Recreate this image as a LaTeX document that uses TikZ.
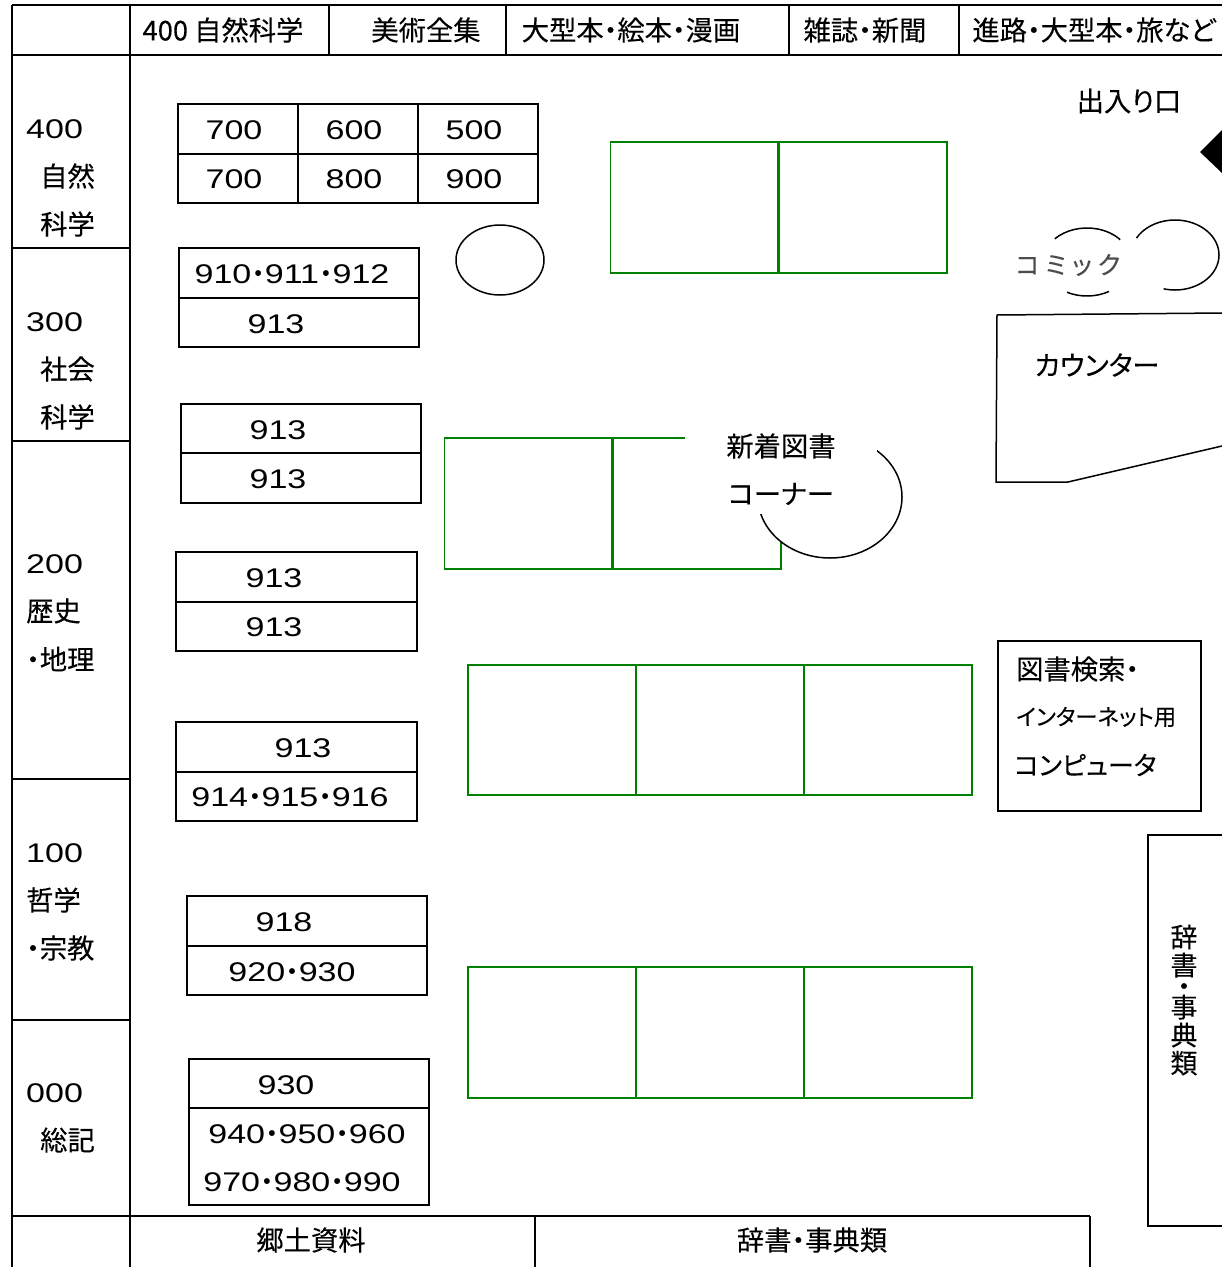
\documentclass[tikz,border=0pt]{standalone}
\usepackage{fontspec}
\usetikzlibrary{shapes.geometric}
\newfontfamily\jpfont[RawFeature=+palt, FakeBold=0.15]{Noto Sans CJK JP}
\newfontfamily\numfont[FakeStretch=1.26]{Liberation Sans}
\newcommand{\mdot}{{\jpfont ・}}
\tikzset{
    jplabel/.style={font=\fontsize{27.3}{30}\selectfont\jpfont, inner sep=0pt},
    numlabel/.style={font=\fontsize{27}{30}\selectfont\numfont, inner sep=0pt},
    shelf/.style={draw, line width=1.6pt, minimum width=#1, inner sep=0pt, outer sep=0pt},
    greenshelf/.style={draw=green!50!black, line width=1.8pt, minimum width=168, minimum height=130.5, inner sep=0pt, outer sep=0pt},
    grid/.style={line width=2pt},
    thinline/.style={line width=1.5pt}
}
\begin{document}
\begin{tikzpicture}[x=1pt, y=1pt]
    \useasboundingbox (0,0) rectangle (1222,-1267);

    % Table frame
    \draw[grid] (12,-5) -- (1222,-5);
    \draw[grid] (12,-55) -- (1222,-55);
    \draw[grid] (12,-5) -- (12,-1267);
    \draw[grid] (130,-5) -- (130,-1267);
    \foreach \x in {329, 506, 789, 959} {
        \draw[grid] (\x,-5) -- (\x,-55);
    }
    \foreach \y in {248, 441, 779, 1020} {
        \draw[grid] (12,-\y) -- (130,-\y);
    }
    \draw[grid] (12,-1216) -- (1090,-1216);
    \draw[grid] (535,-1216) -- (535,-1267);
    \draw[grid] (1090,-1216) -- (1090,-1267);

    % Header and footer
    \node[jplabel] (head1) at (223,-30) {400 自然科学};
    \node[jplabel] (head2) at (426,-30) {美術全集};
    \node[jplabel] (head3) at (631,-30) {大型本\mdot 絵本\mdot 漫画};
    \node[jplabel] (head4) at (865,-30) {雑誌\mdot 新聞};
    \node[jplabel] (head5) at (1094,-30) {進路\mdot 大型本\mdot 旅など};
    \node[jplabel] (foot1) at (311,-1240) {郷土資料};
    \node[jplabel] (foot2) at (812,-1240) {辞書\mdot 事典類};

    % Left column
    \foreach \name/\x/\y/\txt in {c400/26/129/400, c300/26/322/300, c200/26/564/200, c100/26/853/100, c000/26/1093/000} {
        \node[numlabel, anchor=west] (\name) at (\x,-\y) {\txt};
    }
    \foreach \name/\x/\y/\txt in {s400a/40/176/自然, s400b/40/224/科学, s300a/40/369/社会, s300b/40/417/科学, s200a/26/611/歴史, s100a/26/900/哲学, s000a/40/1140/総記} {
        \node[jplabel, anchor=west] (\name) at (\x,-\y) {\txt};
    }
    \node[jplabel, anchor=west] (s200b) at (26,-659) {\mdot 地理};
    \node[jplabel, anchor=west] (s100b) at (26,-948) {\mdot 宗教};

    % Shelves along the left wall
    \foreach \name/\cx/\cy/\w/\h/\tx/\ty/\txt in {
        a1/238/129/120/50/234/130/700, a2/358/129/120/50/354/130/600, a3/478/129/120/50/474/130/500,
        a4/238/178.5/120/49/234/179/700, a5/358/178.5/120/49/354/179/800, a6/478/178.5/120/49/474/179/900,
        b1/299/273/240/50/292/274/910\mdot 911\mdot 912, b2/299/322.5/240/49/276/324/913,
        d1/301/428.5/240/49/278/430/913, d2/301/478/240/50/278/479/913,
        e1/296.5/577/241/50/274/578/913, e2/296.5/626.5/241/49/274/627/913,
        f1/296.5/747/241/50/303/748/913, f2/296.5/796.5/241/49/290/797/914\mdot 915\mdot 916,
        g1/307/921/240/50/284/922/918, g2/307/970.5/240/49/292/972/920\mdot 930,
        h1/309/1083.5/240/49/286/1085/930, h2/309/1156.5/240/97/307/1134/940\mdot 950\mdot 960
    } {
        \node[shelf=\w, minimum height=\h] (\name) at (\cx,-\cy) {};
        \node[numlabel] (\name txt) at (\tx,-\ty) {\txt};
    }
    \node[numlabel] (h3txt) at (302,-1182) {970\mdot 980\mdot 990};

    % Green shelves
    \foreach \name/\cx/\cy in {
        p1/694.5/207.5, p2/863/207.5,
        q1/528.5/503.5, q2/697/503.5,
        r1/552/730, r2/720/730, r3/888/730,
        t1/552/1032.5, t2/720/1032.5, t3/888/1032.5
    } {
        \node[greenshelf] (\name) at (\cx,-\cy) {};
    }
    \draw[green!50!black, line width=3pt] (p1.north east) -- (p1.south east);
    \draw[green!50!black, line width=3pt] (q1.north east) -- (q1.south east);

    % Round table
    \node[draw, ellipse, thinline, minimum width=88, minimum height=70, inner sep=0pt] (table) at (500,-260) {};

    % New book corner
    \node[draw, ellipse, thinline, fill=white, minimum width=144, minimum height=122, inner sep=0pt] (newround) at (830,-497) {};
    \node[fill=white, minimum width=192, minimum height=89, inner sep=0pt] (newcover) at (781,-469.5) {};
    \node[jplabel] (new1) at (781,-446) {新着図書};
    \node[jplabel] (new2) at (781,-494) {コーナー};

    % Entrance
    \node[jplabel] (door) at (1129,-101) {出入り口};
    \fill (1200,-152) -- (1222,-130) -- (1222,-173) -- cycle;

    % Comic corner
    \coordinate (comicl) at (1087,-262);
    \coordinate (comicr) at (1175,-255);
    \draw[thinline] ([shift={(137:44 and 34)}]comicl) arc[start angle=137, end angle=41, x radius=44, y radius=34];
    \draw[thinline] ([shift={(243:44 and 34)}]comicl) arc[start angle=243, end angle=300, x radius=44, y radius=34];
    \draw[thinline] ([shift={(151:44 and 35)}]comicr) arc[start angle=151, end angle=-105, x radius=44, y radius=35];
    \node[jplabel, font=\fontsize{25}{30}\selectfont\jpfont, black!70] (comic) at (1068,-265) {コ\kern6pt ミ\kern6pt ッ\kern6pt ク};

    % Counter
    \draw[thinline] (1222,-313) -- (997,-315) -- (996,-482) -- (1068,-482) -- (1222,-446);
    \node[jplabel] (counter) at (1097,-365) {カウンター};

    % Computers
    \node[shelf=203, minimum height=170] (pc) at (1099.5,-726) {};
    \node[jplabel, anchor=west] (pc1) at (1016,-669) {図書検索\mdot};
    \node[jplabel, anchor=west, font=\fontsize{22.4}{24}\selectfont\jpfont] (pc2) at (1016,-717) {インターネット用};
    \node[jplabel, anchor=west, font=\fontsize{26}{30}\selectfont\jpfont] (pc3) at (1014,-765) {コンピュータ};

    % Dictionaries
    \draw[thinline] (1222,-835) -- (1148,-835) -- (1148,-1226) -- (1222,-1226);
    \node[jplabel, align=center, font=\fontsize{27}{28}\selectfont\jpfont] (dict) at (1184,-1000) {辞\\書\\[-7pt]・\\[-7pt]事\\典\\類};
\end{tikzpicture}
\end{document}
